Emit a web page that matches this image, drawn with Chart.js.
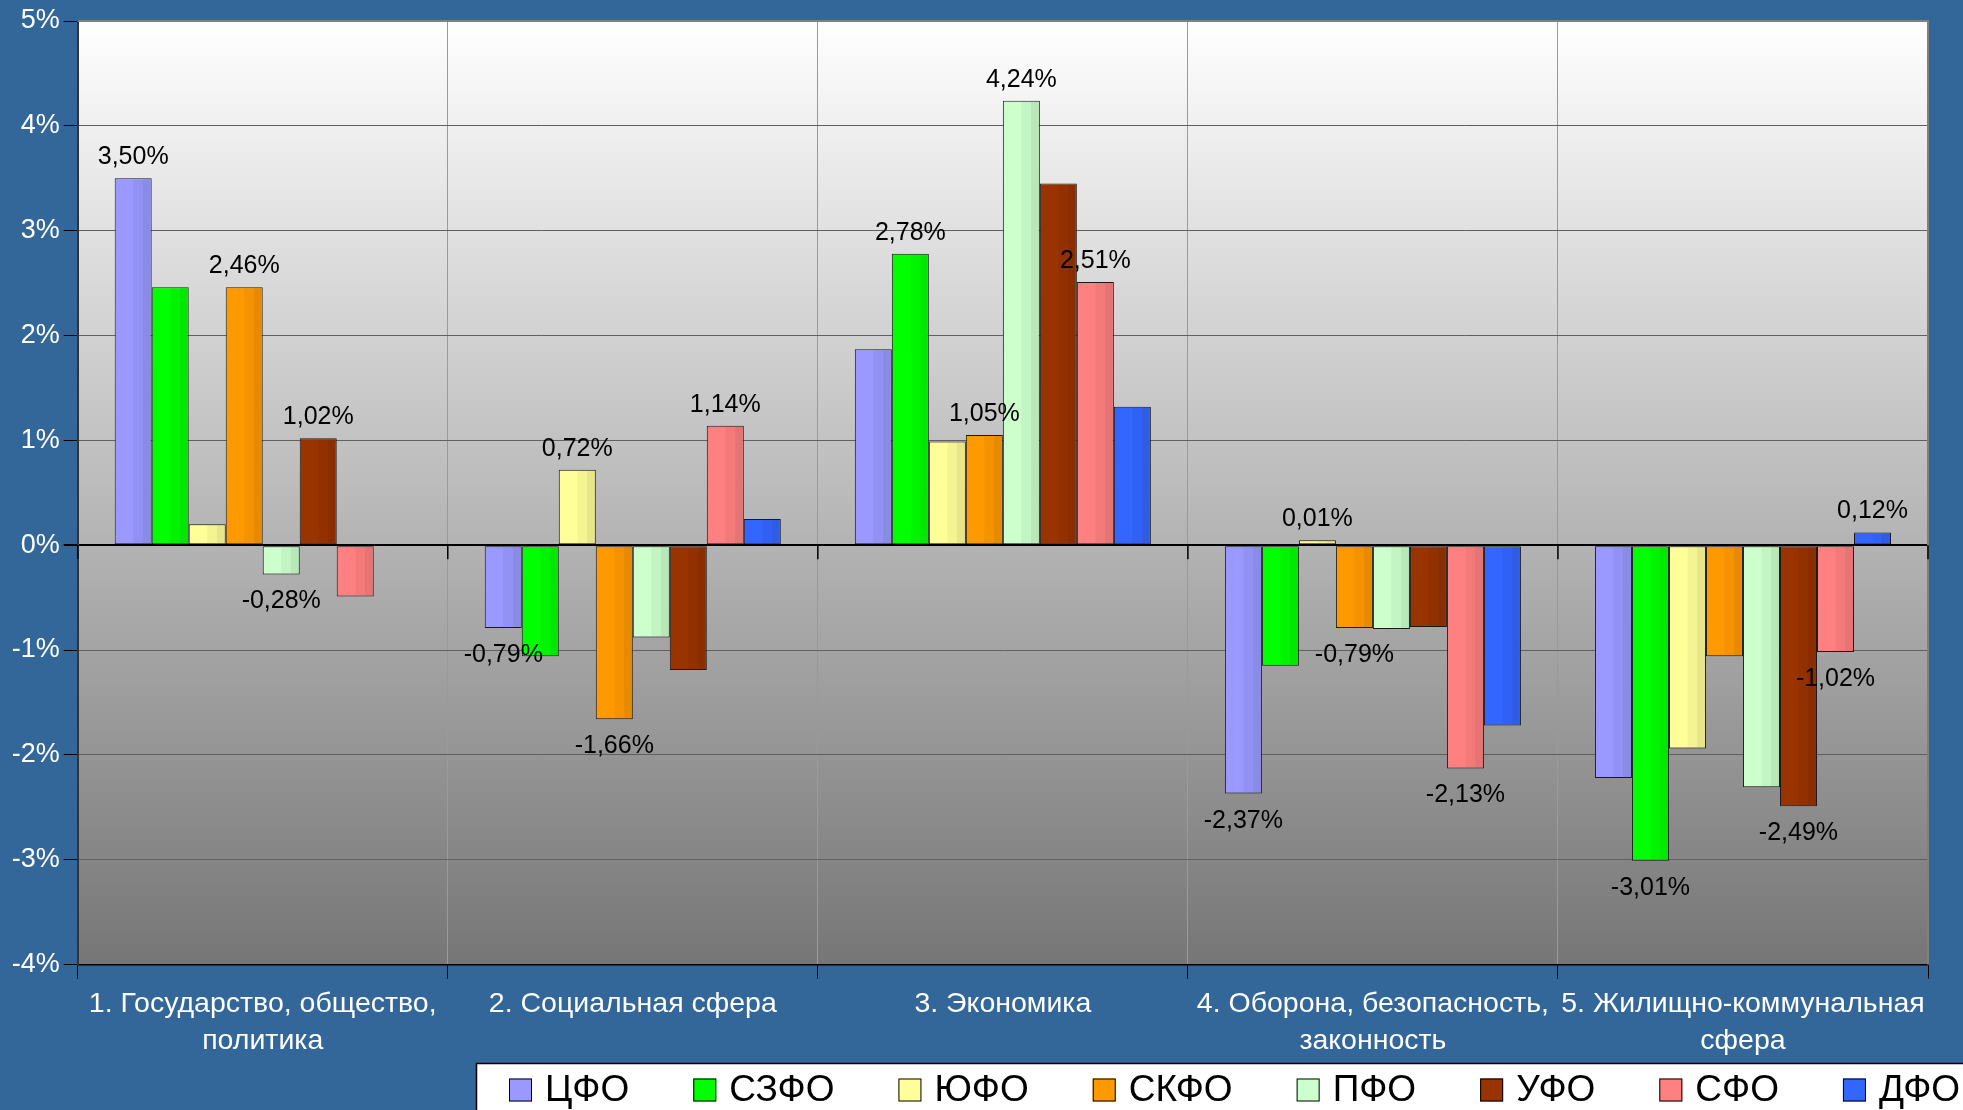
<!DOCTYPE html>
<html>
<head>
<meta charset="utf-8">
<script src="https://cdn.jsdelivr.net/npm/chart.js@4.4.1/dist/chart.umd.min.js"></script>
<style>
html,body{margin:0;padding:0;background:#336699;overflow:hidden}
#wrap{width:1963px;height:1110px;position:relative}
</style>
</head>
<body>
<div id="wrap"><canvas id="c" width="1963" height="1110"></canvas></div>
<script>
// ---- data ----
const categories = [
  ["1. Государство, общество,", "политика"],
  ["2. Социальная сфера"],
  ["3. Экономика"],
  ["4. Оборона, безопасность,", "законность"],
  ["5. Жилищно-коммунальная", "сфера"]
];
const seriesNames = ["ЦФО", "СЗФО", "ЮФО", "СКФО", "ПФО", "УФО", "СФО", "ДФО"];
const cfo  = [3.50, -0.79, 1.87, -2.37, -2.22];
const szfo = [2.46, -1.06, 2.78, -1.15, -3.01];
const yufo = [0.20, 0.72, 0.99, 0.01, -1.94];
const skfo = [2.46, -1.66, 1.05, -0.79, -1.06];
const pfo  = [-0.28, -0.88, 4.24, -0.80, -2.31];
const ufo  = [1.02, -1.19, 3.45, -0.78, -2.49];
const sfo  = [-0.49, 1.14, 2.51, -2.13, -1.02];
const dfo  = [null, 0.25, 1.32, -1.72, 0.12];
// which series (by index) carry a value label, per category
const labelledSeries = [[0, 3, 4, 5], [0, 2, 3, 6], [1, 3, 4, 6], [0, 2, 3, 6], [1, 5, 6, 7]];
const yMin = -4, yMax = 5, yStep = 1;

const seriesValues = [cfo, szfo, yufo, skfo, pfo, ufo, sfo, dfo];
const seriesColors = ["#9999FF", "#00FF00", "#FFFF99", "#FF9900", "#CCFFCC", "#993300", "#FF8080", "#3366FF"];

const FONT = "'Liberation Sans', Arial, sans-serif";
Chart.defaults.font.family = FONT;

function fmt(v) { return v.toFixed(2).replace('.', ',') + '%'; }

const bgPlugin = {
  id: 'bg',
  beforeDraw(chart) {
    const ctx = chart.ctx, a = chart.chartArea;
    ctx.save();
    ctx.fillStyle = '#336699';
    ctx.fillRect(0, 0, chart.width, chart.height);
    const g = ctx.createLinearGradient(0, a.top, 0, a.bottom);
    g.addColorStop(0, '#ffffff');
    g.addColorStop(1, '#767676');
    ctx.fillStyle = g;
    ctx.fillRect(a.left, a.top, a.right - a.left, a.bottom - a.top);
    ctx.restore();
  }
};

const barDecor = {
  id: 'barDecor',
  afterDatasetsDraw(chart) {
    const ctx = chart.ctx;
    ctx.save();
    // shading stripes on each bar
    chart.data.datasets.forEach((ds, di) => {
      const meta = chart.getDatasetMeta(di);
      meta.data.forEach((bar, i) => {
        if (ds.data[i] === null || ds.data[i] === undefined) return;
        const p = bar.getProps(['x', 'y', 'base', 'width'], true);
        const left = p.x - p.width / 2;
        const top = Math.min(p.y, p.base) + 1;
        const h = Math.abs(p.y - p.base) - 2;
        if (h <= 0) return;
        ctx.fillStyle = 'rgba(0,0,0,0.045)';
        ctx.fillRect(left + p.width * 0.5, top, p.width * 0.26, h);
        ctx.fillStyle = 'rgba(0,0,0,0.095)';
        ctx.fillRect(left + p.width * 0.76, top, p.width * 0.24 - 1, h);
      });
    });
    // value labels
    ctx.fillStyle = '#000';
    ctx.font = '25px ' + FONT;
    ctx.textAlign = 'center';
    ctx.textBaseline = 'middle';
    labelledSeries.forEach((list, ci) => {
      list.forEach(si => {
        const v = seriesValues[si][ci];
        const bar = chart.getDatasetMeta(si).data[ci];
        const p = bar.getProps(['x', 'y', 'base'], true);
        const y = v >= 0 ? Math.min(p.y, p.base) - 21 : Math.max(p.y, p.base) + 27;
        ctx.fillText(fmt(v), p.x, y);
      });
    });
    ctx.restore();
  },
  afterDraw(chart) {
    const ctx = chart.ctx, a = chart.chartArea;
    const ys = chart.scales.y;
    ctx.save();
    // top and right plot border
    ctx.strokeStyle = '#808080';
    ctx.lineWidth = 2;
    ctx.beginPath();
    ctx.moveTo(a.left, a.top);
    ctx.lineTo(a.right, a.top);
    ctx.lineTo(a.right, a.bottom);
    ctx.stroke();
    // tick marks on zero line at category boundaries
    const y0 = ys.getPixelForValue(0);
    ctx.strokeStyle = '#000';
    ctx.lineWidth = 1.5;
    const n = categories.length;
    for (let i = 0; i <= n; i++) {
      const x = a.left + i * (a.right - a.left) / n;
      ctx.beginPath();
      ctx.moveTo(x, y0);
      ctx.lineTo(x, y0 + 14);
      ctx.stroke();
    }
    // legend
    const lx = 476, ly = 1063;
    ctx.fillStyle = '#ffffff';
    ctx.fillRect(lx, ly, chart.width - lx + 10, chart.height - ly + 10);
    ctx.strokeStyle = '#000';
    ctx.lineWidth = 1.5;
    ctx.strokeRect(lx + 0.5, ly + 0.5, chart.width, chart.height);
    ctx.font = '37px ' + FONT;
    ctx.textAlign = 'left';
    ctx.textBaseline = 'middle';
    let x = 509;
    const cy = 1090, bs = 23;
    seriesNames.forEach((name, i) => {
      ctx.fillStyle = seriesColors[i];
      ctx.fillRect(x, cy - bs / 2, bs, bs);
      ctx.strokeStyle = '#000';
      ctx.lineWidth = 1;
      ctx.strokeRect(x + 0.5, cy - bs / 2 + 0.5, bs - 1, bs - 1);
      ctx.fillStyle = '#000';
      const tx = x + bs + 13;
      ctx.fillText(name, tx, cy + 1);
      x = tx + ctx.measureText(name).width + 64;
    });
    ctx.restore();
  }
};

const datasets = seriesNames.map((name, i) => ({
  label: name,
  data: seriesValues[i],
  backgroundColor: seriesColors[i],
  borderColor: '#1a1a1a',
  borderWidth: 1,
  borderSkipped: false,
  categoryPercentage: 0.8,
  barPercentage: 1.0,
  minBarLength: 5
}));

new Chart(document.getElementById('c'), {
  type: 'bar',
  data: { labels: categories, datasets },
  plugins: [bgPlugin, barDecor],
  options: {
    responsive: false,
    animation: false,
    devicePixelRatio: 1,
    layout: { padding: { top: 21, right: 35, left: 0, bottom: 0 } },
    plugins: { legend: { display: false }, tooltip: { enabled: false } },
    scales: {
      x: {
        grid: {
          offset: true,
          color: '#9a9a9a',
          lineWidth: 1,
          tickColor: '#000',
          tickLength: 14,
          drawTicks: true
        },
        border: { color: '#000', width: 1.5 },
        ticks: {
          color: '#ffffff',
          font: { size: 28.5, lineHeight: 1.3 },
          padding: 7,
          maxRotation: 0,
          autoSkip: false
        },
        afterFit(s) { s.height = 145.5; }
      },
      y: {
        min: yMin,
        max: yMax,
        grid: {
          color: c => c.tick && c.tick.value === 0 ? '#000' : '#606060',
          lineWidth: c => c.tick && c.tick.value === 0 ? 2 : 1,
          tickColor: '#000',
          tickLength: 14
        },
        border: { color: '#333', width: 2 },
        ticks: {
          stepSize: yStep,
          color: '#ffffff',
          font: { size: 27 },
          padding: 4,
          callback: v => v + '%'
        },
        afterFit(s) { s.width = 77.7; }
      }
    }
  }
});
</script>
</body>
</html>
